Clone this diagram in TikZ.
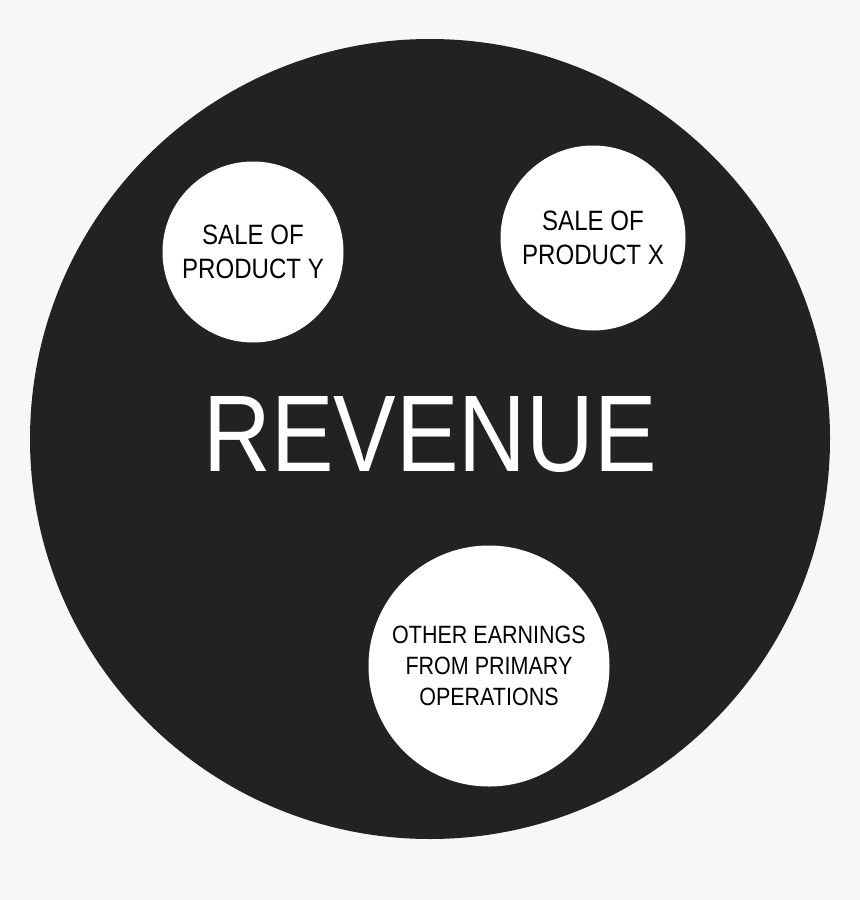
\documentclass[tikz,border=0pt]{standalone}
\usepackage{fontspec}
\setmainfont[FakeStretch=0.86]{Liberation Sans}
\definecolor{pagegray}{HTML}{F7F7F7}
\definecolor{discblack}{HTML}{222222}
\begin{document}
\begin{tikzpicture}[
        x=0.5pt, y=-0.5pt, % one unit = one pixel of the 860x900 picture
        disc/.style={circle, fill=discblack, inner sep=0pt},
        part/.style={circle, fill=white, inner sep=0pt, align=center, text=black}, % small white circles
        title/.style={text=white, font=\fontsize{54.5}{60}\selectfont},
    ]
    \fill[pagegray] (0,0) rectangle (860,900);
    \useasboundingbox (0,0) rectangle (860,900);

    \node[disc, minimum size=400pt] (revenue) at (430,439) {};
    \node[title] (label) at (430,435) {REVENUE};

    \node[part, minimum size=90.5pt, font=\fontsize{14}{17}\selectfont] (prody) at (253,252) {SALE OF\\PRODUCT Y};
    \node[part, minimum size=92.5pt, font=\fontsize{14}{17}\selectfont] (prodx) at (593,238) {SALE OF\\PRODUCT X};
    \node[part, minimum size=120.5pt, font=\fontsize{12.5}{15.5}\selectfont] (other) at (489,666) {OTHER EARNINGS\\FROM PRIMARY\\OPERATIONS};
\end{tikzpicture}
\end{document}
